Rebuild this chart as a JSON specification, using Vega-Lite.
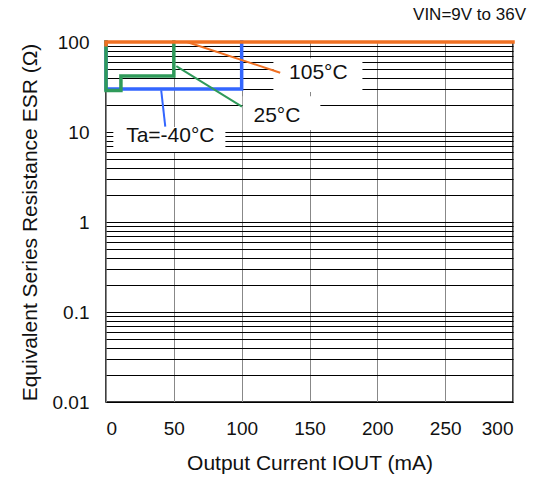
{
  "$schema": "https://vega.github.io/schema/vega-lite/v6.json",
  "width": 407,
  "height": 360,
  "autosize": {"type": "none"},
  "padding": {"left": 106, "top": 42, "right": 20, "bottom": 77},
  "background": "white",
  "config": {
    "font": "Liberation Sans",
    "view": {"stroke": "black", "strokeWidth": 1.5},
    "axis": {"labelFont": "Liberation Sans", "titleFont": "Liberation Sans", "labelColor": "#111", "titleColor": "#111", "titleFontWeight": "normal"}
  },
  "title": {"text": "VIN=9V to 36V", "anchor": "end", "frame": "group", "fontSize": 17, "fontWeight": "normal", "font": "Liberation Sans", "color": "#111", "offset": 9, "dx": 13},
  "datasets": {
    "series": [
      {"s": "-40", "o": 1, "x": 0, "y": 100},
      {"s": "-40", "o": 2, "x": 0, "y": 30},
      {"s": "-40", "o": 3, "x": 100, "y": 30},
      {"s": "-40", "o": 4, "x": 100, "y": 100},
      {"s": "25", "o": 1, "x": 0, "y": 100},
      {"s": "25", "o": 2, "x": 0, "y": 29},
      {"s": "25", "o": 3, "x": 11, "y": 29},
      {"s": "25", "o": 4, "x": 11, "y": 42},
      {"s": "25", "o": 5, "x": 50, "y": 42},
      {"s": "25", "o": 6, "x": 50, "y": 100},
      {"s": "105", "o": 1, "x": 0, "y": 93},
      {"s": "105", "o": 2, "x": 0, "y": 100},
      {"s": "105", "o": 3, "x": 300, "y": 100}
    ],
    "boxes": [
      {"x": 5.4, "x2": 88, "y": 11.4, "y2": 6.0},
      {"x": 100.8, "x2": 158, "y": 25, "y2": 10.5},
      {"x": 123.4, "x2": 189, "y": 66, "y2": 27.8}
    ],
    "leaders": [
      {"s": "-40", "x": 40.7, "y": 29, "x2": 43.7, "y2": 11.5},
      {"s": "25", "x": 51.8, "y": 54, "x2": 100.2, "y2": 19.1},
      {"s": "105", "x": 59.7, "y": 100, "x2": 128.4, "y2": 45.6}
    ],
    "labels": [
      {"t": "Ta=-40°C", "x": 47.4, "y": 9.0},
      {"t": "25°C", "x": 126, "y": 15.1},
      {"t": "105°C", "x": 156.5, "y": 44.7}
    ]
  },
  "layer": [
    {
      "data": {"name": "boxes"},
      "mark": {"type": "rect", "fill": "white", "stroke": null},
      "encoding": {
        "x": {"field": "x", "type": "quantitative", "scale": {"domain": [0, 300]},
          "axis": {"values": [0, 50, 100, 150, 200, 250, 300], "grid": true, "gridColor": "#888", "gridWidth": 1, "ticks": false, "domain": false, "labelFontSize": 19, "labelPadding": 17, "title": "Output Current IOUT (mA)", "titleFontSize": 21, "titlePadding": 14}},
        "x2": {"field": "x2"},
        "y": {"field": "y", "type": "quantitative", "scale": {"type": "log", "domain": [0.01, 100]},
          "axis": {"values": [0.01,0.02,0.03,0.04,0.05,0.06,0.07,0.08,0.09,0.1,0.2,0.3,0.4,0.5,0.6,0.7,0.8,0.9,1,2,3,4,5,6,7,8,9,10,20,30,40,50,60,70,80,90,100],
            "format": "~g", "labelExpr": "(datum.label == '0.01' || datum.label == '0.1' || datum.label == '1' || datum.label == '10' || datum.label == '100') ? datum.label : ''",
            "grid": true, "gridColor": "black", "gridWidth": 1, "ticks": false, "domain": false, "labelFontSize": 19, "labelPadding": 17, "title": "Equivalent Series Resistance ESR (Ω)", "titleFontSize": 21, "titlePadding": 12}},
        "y2": {"field": "y2"}
      }
    },
    {
      "data": {"name": "series"},
      "mark": {"type": "line", "strokeWidth": 3.5, "clip": false, "strokeCap": "square", "strokeJoin": "miter"},
      "encoding": {
        "x": {"field": "x", "type": "quantitative"},
        "y": {"field": "y", "type": "quantitative"},
        "order": {"field": "o"},
        "detail": {"field": "s"},
        "color": {"field": "s", "type": "nominal", "scale": {"domain": ["-40", "25", "105"], "range": ["#3366ff", "#2f9a5a", "#f07022"]}, "legend": null}
      }
    },
    {
      "data": {"name": "leaders"},
      "mark": {"type": "rule", "strokeWidth": 2},
      "encoding": {
        "x": {"field": "x", "type": "quantitative"},
        "y": {"field": "y", "type": "quantitative"},
        "x2": {"field": "x2"},
        "y2": {"field": "y2"},
        "color": {"field": "s", "type": "nominal", "scale": {"domain": ["-40", "25", "105"], "range": ["#3366ff", "#2f9a5a", "#f07022"]}, "legend": null}
      }
    },
    {
      "data": {"name": "labels"},
      "mark": {"type": "text", "fontSize": 21, "font": "Liberation Sans", "color": "#111", "align": "center", "baseline": "middle"},
      "encoding": {
        "x": {"field": "x", "type": "quantitative"},
        "y": {"field": "y", "type": "quantitative"},
        "text": {"field": "t"}
      }
    }
  ]
}
